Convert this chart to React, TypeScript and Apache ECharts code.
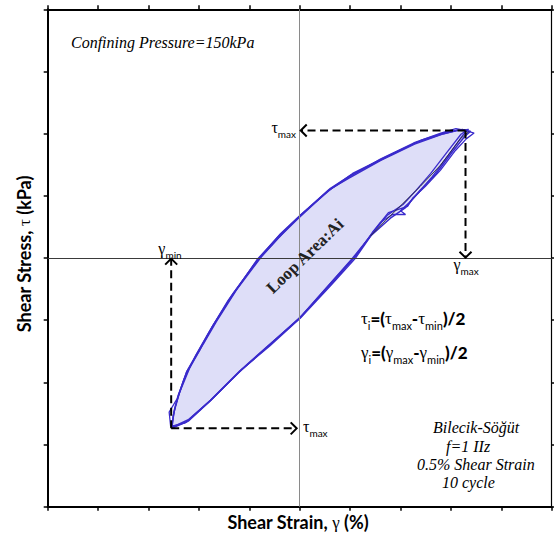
import React, { useEffect, useRef } from "react";
import * as echarts from "echarts";

// Axis ranges (no tick labels are printed on the reference)
const strainAxis = { min: -5, max: 5, interval: 1 };
const stressAxis = { min: -40, max: 40, interval: 10 };

// Hysteresis cycles: [shear strain, shear stress]
const cycleA: [number, number][] = [
  [-2.54, -27.4], [-2.49, -24.5], [-2.41, -22.1], [-2.23, -18.1], [-1.97, -14.4],
  [-1.71, -10.7], [-1.32, -5.7], [-0.8, 0], [-0.38, 3.9], [0.0, 6.8], [0.61, 11.2],
  [1.01, 13.3], [1.66, 16.0], [2.32, 18.6], [2.85, 20.0], [3.15, 20.6], [3.39, 20.4],
  [3.27, 19.5], [3.03, 17.1], [2.71, 13.6], [2.39, 10.9], [2.1, 8.1], [1.8, 6.4],
  [1.4, 3.5], [1.07, 0], [0.61, -4.1], [0.0, -9.7], [-0.65, -14.3], [-1.18, -18.1],
  [-1.77, -22.9], [-2.23, -26.3], [-2.54, -27.4],
];
const cycleB: [number, number][] = [
  [-2.53, -27.2], [-2.51, -25.3], [-2.39, -21.8], [-2.19, -17.8], [-1.91, -13.8],
  [-1.65, -10.2], [-1.26, -5.2], [-0.76, 0.2], [-0.32, 4.1], [0.03, 7.0], [0.65, 11.3],
  [1.05, 13.6], [1.72, 16.3], [2.4, 18.9], [2.92, 20.3], [3.23, 20.7], [3.46, 20.1],
  [3.31, 19.2], [3.09, 17.3], [2.79, 14.1], [2.49, 11.5], [2.24, 9.6], [2.14, 8.3],
  [1.76, 7.3], [1.68, 6.5], [1.44, 4.1], [1.12, 0.4], [0.67, -3.8], [0.05, -9.2],
  [-0.62, -14.1], [-1.14, -17.9], [-1.73, -22.6], [-2.21, -26.0], [-2.53, -27.2],
];
const cycleC: [number, number][] = [
  [-2.56, -27.1], [-2.59, -24.8], [-2.43, -22.6], [-2.25, -18.4], [-1.99, -14.9],
  [-1.73, -11.0], [-1.35, -6.2], [-0.84, -0.2], [-0.42, 3.5], [-0.03, 6.5], [0.57, 10.9],
  [0.97, 12.8], [1.61, 15.7], [2.28, 18.3], [2.82, 19.9], [3.12, 20.5], [3.35, 20.7],
  [3.23, 19.7], [2.95, 16.5], [2.63, 13.1], [2.36, 10.5], [2.16, 8.8], [2.0, 7.6],
  [2.1, 7.0], [1.84, 7.0], [1.6, 5.7], [1.36, 3.1], [1.03, -0.2], [0.57, -4.4],
  [-0.03, -9.9], [-0.68, -14.6], [-1.21, -18.4], [-1.81, -23.2], [-2.27, -26.5], [-2.56, -27.1],
];
const cycleD: [number, number][] = [
  [-2.55, -27.3], [-2.46, -23.6], [-2.3, -19.6], [-2.06, -15.6], [-1.8, -11.9],
  [-1.42, -6.8], [-0.9, -1.0], [-0.45, 3.0], [-0.05, 6.2], [0.55, 10.7], [1.0, 13.1],
  [1.6, 15.9], [2.26, 18.5], [2.8, 20.1], [3.1, 20.8], [3.31, 20.5],
  [3.2, 19.9], [2.92, 17.0], [2.6, 13.6], [2.3, 10.8], [2.05, 8.6], [1.74, 6.9],
  [1.45, 4.0], [1.1, -0.1], [0.63, -4.3], [0.02, -9.6], [-0.6, -14.2], [-1.16, -18.0],
  [-1.75, -22.8], [-2.2, -26.2], [-2.55, -27.3],
];
const darkTrace: [number, number][] = [
  [3.35, 20.3], [3.19, 19.2], [2.79, 14.9], [2.39, 11.5], [1.99, 8.3], [1.7, 6.0], [1.4, 3.5],
];

// Dashed annotation arrows: [x1, y1, x2(tip), y2(tip)]
const arrows: [number, number, number, number][] = [
  [3.29, 20.5, 0.02, 20.5],
  [3.29, 20.5, 3.29, 0.05],
  [-2.55, -27.4, -2.55, -0.1],
  [-2.55, -27.4, -0.06, -27.4],
];

const LINE = "#3a2bcc";
const SERIF = "Liberation Serif";
const SANS = "Lato";

function axisCommon(pos: string) {
  const thick = pos === "bottom" || pos === "left" || pos === "top";
  return {
    type: "value" as const,
    position: pos,
    axisLine: { show: true, onZero: false, lineStyle: { color: "#000", width: thick ? 2 : 1.2 } },
    axisTick: { show: true, inside: false, length: 4, lineStyle: { color: "#000", width: 1.5 } },
    axisLabel: { show: false },
    splitLine: { show: false },
  };
}

const subRich = (size: number, sub: number, shift: number) => ({
  g: { fontFamily: SERIF, fontSize: size, lineHeight: size + 1, verticalAlign: "bottom", padding: [0, 0, shift, 0], color: "#000" },
  b: { fontFamily: SANS, fontWeight: 900, fontSize: size, lineHeight: size + 1, verticalAlign: "bottom", padding: [0, 0, shift, 0], color: "#000" },
  s: { fontFamily: SANS, fontSize: sub, lineHeight: sub + 1, verticalAlign: "bottom", color: "#000" },
});

const italic = (text: string, x: number, y: number) => ({
  type: "text", x, y, z: 10,
  style: {
    text, fontFamily: SERIF, fontStyle: "italic", fontSize: 16, fill: "#000",
    textAlign: "left", textVerticalAlign: "middle",
  },
});

export default function App() {
  const ref = useRef<HTMLDivElement>(null);
  useEffect(() => {
    document.body.style.margin = "0";
    if (!ref.current) return;
    const chart = echarts.init(ref.current, undefined, { renderer: "svg" });
    const lineSeries = (data: [number, number][], color: string, width: number, extra: any = {}) => ({
      type: "line",
      data,
      showSymbol: false,
      symbol: "none",
      smooth: false,
      z: 3,
      lineStyle: { color, width },
      ...extra,
    });
    chart.setOption({
      animation: false,
      grid: { left: 47.7, right: 2.3, top: 9.3, bottom: 28.3 },
      xAxis: [
        { ...axisCommon("bottom"), ...strainAxis },
        { ...axisCommon("top"), ...strainAxis },
      ],
      yAxis: [
        { ...axisCommon("left"), ...stressAxis },
        { ...axisCommon("right"), ...stressAxis },
      ],
      series: [
        {
          type: "custom",
          data: cycleA,
          z: 1,
          silent: true,
          encode: { x: 0, y: 1 },
          renderItem: (params: any, api: any) => {
            if (params.dataIndex !== 0) return null;
            const pts = cycleA.map((p) => api.coord(p));
            return {
              type: "polygon",
              shape: { points: pts },
              style: { fill: "#dedef8", stroke: "none" },
            };
          },
        },
        lineSeries(cycleA, LINE, 1.5, {
          markLine: {
            silent: true,
            symbol: ["none", "none"],
            label: { show: false },
            lineStyle: { type: "solid", width: 1 },
            data: [
              { xAxis: 0, lineStyle: { color: "#8a8a8a", type: "solid", width: 1 } },
              { yAxis: 0, lineStyle: { color: "#3a3a3a", type: "solid", width: 1 } },
            ],
          },
        }),
        lineSeries(cycleB, LINE, 1.3),
        lineSeries(cycleC, LINE, 1.3),
        lineSeries(cycleD, LINE, 1.3),
        lineSeries(darkTrace, "#2a2a3a", 0.9),
        {
          type: "custom",
          data: arrows,
          z: 5,
          silent: true,
          encode: { x: [0, 2], y: [1, 3] },
          renderItem: (_params: any, api: any) => {
            const p1 = api.coord([api.value(0), api.value(1)]);
            const p2 = api.coord([api.value(2), api.value(3)]);
            const dx = p2[0] - p1[0];
            const dy = p2[1] - p1[1];
            const len = Math.hypot(dx, dy) || 1;
            const ux = dx / len;
            const uy = dy / len;
            const back = 6;
            const half = 6;
            const a = [p2[0] - ux * back - uy * half, p2[1] - uy * back + ux * half];
            const b = [p2[0] - ux * back + uy * half, p2[1] - uy * back - ux * half];
            return {
              type: "group",
              children: [
                {
                  type: "line",
                  shape: { x1: p1[0], y1: p1[1], x2: p2[0] - ux, y2: p2[1] - uy },
                  style: { stroke: "#000", lineWidth: 2, lineDash: [8, 4.5] },
                },
                {
                  type: "polyline",
                  shape: { points: [a, p2, b] },
                  style: { stroke: "#000", lineWidth: 2, fill: "none" },
                },
              ],
            };
          },
        },
      ],
      graphic: [
        italic("Confining Pressure=150kPa", 71, 42),
        {
          type: "text", x: 305, y: 256, rotation: 0.765, z: 10,
          style: {
            text: "Loop Area:Ai", fontFamily: SERIF, fontWeight: "bold", fontSize: 17, fill: "#222",
            textAlign: "center", textVerticalAlign: "middle",
          },
        },
        {
          type: "text", x: 361, y: 322, z: 10,
          style: {
            text: "{g|τ}{s|i}{b|=(}{g|τ}{s|max}{b|-}{g|τ}{s|min}{b|)/2}",
            rich: subRich(17, 11, 4), textAlign: "left", textVerticalAlign: "middle",
          },
        },
        {
          type: "text", x: 361, y: 356, z: 10,
          style: {
            text: "{g|γ}{s|i}{b|=(}{g|γ}{s|max}{b|-}{g|γ}{s|min}{b|)/2}",
            rich: subRich(17, 11, 4), textAlign: "left", textVerticalAlign: "middle",
          },
        },
        italic("Bilecik-Söğüt", 433, 427),
        italic("f=1 IIz", 446, 446),
        italic("0.5% Shear Strain", 417, 464),
        italic("10 cycle", 442, 482),
        {
          type: "text", x: 296, y: 130, z: 10,
          style: { text: "{g|τ}{s|max}", rich: subRich(16, 10, 3), textAlign: "right", textVerticalAlign: "middle" },
        },
        {
          type: "text", x: 466, y: 267, z: 10,
          style: { text: "{g|γ}{s|max}", rich: subRich(16, 10, 3), textAlign: "center", textVerticalAlign: "middle" },
        },
        {
          type: "text", x: 170, y: 251, z: 10,
          style: { text: "{g|γ}{s|min}", rich: subRich(16, 10, 3), textAlign: "center", textVerticalAlign: "middle" },
        },
        {
          type: "text", x: 303, y: 429, z: 10,
          style: { text: "{g|τ}{s|max}", rich: subRich(16, 10, 3), textAlign: "left", textVerticalAlign: "middle" },
        },
        {
          type: "text", x: 298, y: 522, z: 10,
          style: {
            text: "{b|Shear Strain, }{g|γ}{b| (%)}",
            rich: {
              b: { fontFamily: SANS, fontWeight: "bold", fontSize: 18, color: "#000" },
              g: { fontFamily: SERIF, fontSize: 17, color: "#000" },
            },
            textAlign: "center", textVerticalAlign: "middle",
          },
        },
        {
          type: "text", x: 24, y: 254, rotation: Math.PI / 2, z: 10,
          style: {
            text: "{b|Shear Stress, }{g|τ}{b| (kPa)}",
            rich: {
              b: { fontFamily: SANS, fontWeight: "bold", fontSize: 18, color: "#000" },
              g: { fontFamily: SERIF, fontSize: 17, color: "#000" },
            },
            textAlign: "center", textVerticalAlign: "middle",
          },
        },
      ],
    });
    return () => chart.dispose();
  }, []);
  return <div ref={ref} style={{ width: 554, height: 535 }} />;
}
